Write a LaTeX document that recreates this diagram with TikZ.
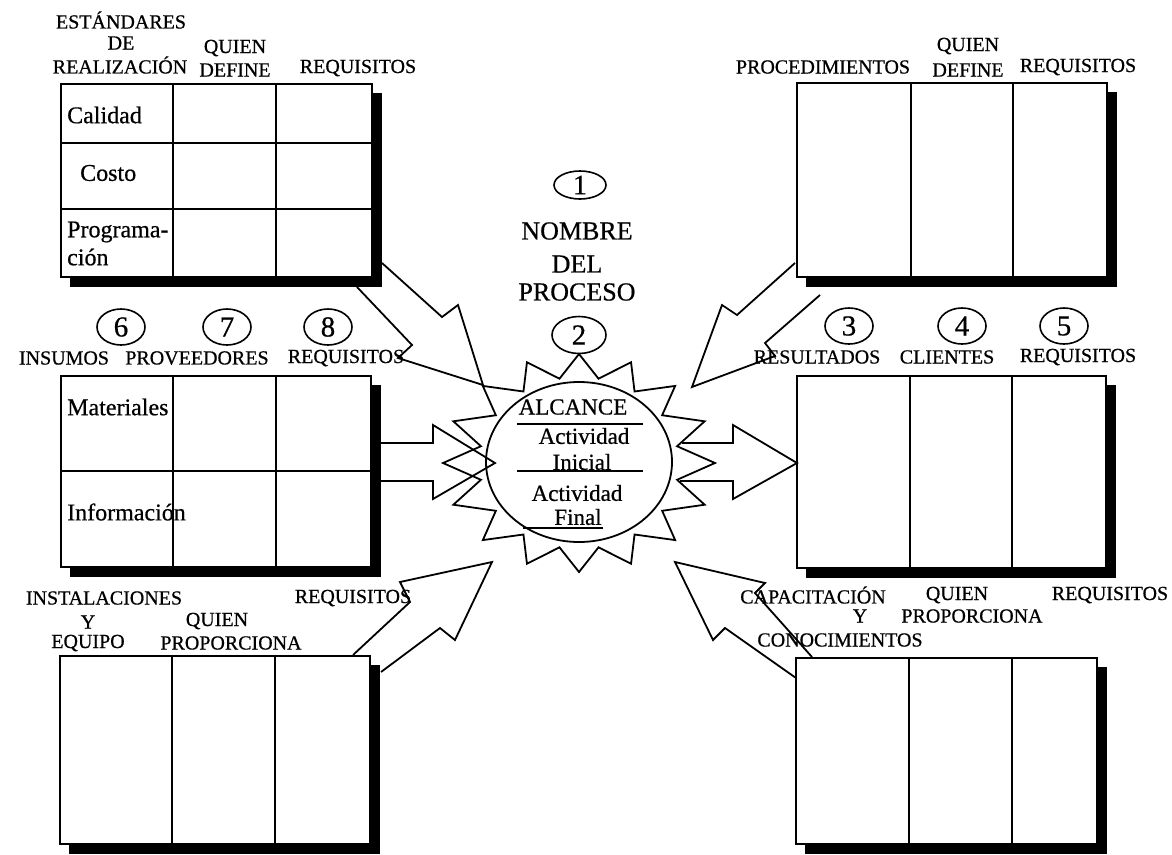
\documentclass[tikz,border=0pt]{standalone}
\usepackage{fontspec}
\setmainfont{Liberation Serif}[FakeBold=0.6]
\usetikzlibrary{shapes.geometric}
\tikzset{
  lbl/.style={inner sep=0pt, font=\fontsize{20}{22}\selectfont},
  cell/.style={inner sep=0pt, anchor=west, font=\fontsize{24}{26}\selectfont},
  suntext/.style={inner sep=0pt, font=\fontsize{23}{25}\selectfont},
  bigtext/.style={inner sep=0pt, font=\fontsize{26}{28}\selectfont},
  numel/.style={draw, ellipse, line width=1.6pt, inner sep=0pt, minimum width=48pt, minimum height=36pt, font=\fontsize{29}{31}\selectfont},
  tbl/.style={draw, line width=1.8pt, inner sep=0pt, outer sep=0pt},
  tline/.style={line width=1.8pt},
  blockarrow/.style={draw, line width=1.8pt, line join=miter},
}
\newcommand\mytable[5]{%
  \fill (#4,#3+9) rectangle (#4+10,#5+10);
  \fill (#2+9,#5) rectangle (#4+10,#5+10);
  \node[tbl, minimum width=#4-#2, minimum height=#5-#3] (#1) at ({(#2+#4)/2},{(#3+#5)/2}) {};
}
\begin{document}
\begin{tikzpicture}[x=1pt, y=-1pt]
\useasboundingbox (0,0) rectangle (1172,854);
\fill[white] (0,0) rectangle (1172,854);

% ---------- tables ----------
\mytable{T1}{61}{84}{372}{277}
\draw[tline] (173,84) -- (173,277) (276,84) -- (276,277)
             (61,143) -- (372,143) (61,209) -- (372,209);
\mytable{T2}{797}{83}{1107}{277}
\draw[tline] (911,83) -- (911,277) (1013,83) -- (1013,277);
\mytable{T3}{61}{376}{371}{567}
\draw[tline] (173,376) -- (173,567) (276,376) -- (276,567) (61,471) -- (371,471);
\mytable{T4}{797}{376}{1106}{568}
\draw[tline] (910,376) -- (910,568) (1012,376) -- (1012,568);
\mytable{T5}{60}{656}{370}{844}
\draw[tline] (172,656) -- (172,844) (275,656) -- (275,844);
\mytable{T6}{796}{658}{1097}{844}
\draw[tline] (909,658) -- (909,844) (1012,658) -- (1012,844);

% ---------- table labels ----------
\node[lbl] (t1a) at (121,20) {ESTÁNDARES};
\node[lbl] (t1b) at (121,43) {DE};
\node[lbl] (t1c) at (120,65) {REALIZACIÓN};
\node[lbl] (t1d) at (235,48) {QUIEN};
\node[lbl] (t1e) at (235,70) {DEFINE};
\node[lbl] (t1f) at (358,68) {REQUISITOS};
\node[cell] (c1) at (67,115) {Calidad};
\node[cell] (c2) at (80,173) {Costo};
\node[cell] (c3) at (67,232) {Programa-};
\node[cell] (c4) at (67,257) {ción};

\node[lbl] (t2a) at (823,67) {PROCEDIMIENTOS};
\node[lbl] (t2b) at (968,46) {QUIEN};
\node[lbl] (t2c) at (968,70) {DEFINE};
\node[lbl] (t2d) at (1078,67) {REQUISITOS};

\node[numel] (n6) at (121,327) {6};
\node[numel] (n7) at (227,327) {7};
\node[numel] (n8) at (328,327) {8};
\node[lbl] (t3a) at (64,358) {INSUMOS};
\node[lbl] (t3b) at (197,358) {PROVEEDORES};
\node[lbl] (t3c) at (346,358) {REQUISITOS};
\node[cell] (c5) at (67,407) {Materiales};
\node[cell] (c6) at (67,512) {Información};

\node[numel] (n3) at (849,326) {3};
\node[numel] (n4) at (962,326) {4};
\node[numel] (n5) at (1064,326) {5};
\node[lbl] (t4a) at (817,357) {RESULTADOS};
\node[lbl] (t4b) at (947,357) {CLIENTES};
\node[lbl] (t4c) at (1078,357) {REQUISITOS};

\node[lbl] (t5a) at (104,598) {INSTALACIONES};
\node[lbl] (t5b) at (88,622) {Y};
\node[lbl] (t5c) at (88,643) {EQUIPO};
\node[lbl] (t5d) at (217,621) {QUIEN};
\node[lbl] (t5e) at (231,643) {PROPORCIONA};
\node[lbl] (t5f) at (353,598) {REQUISITOS};

\node[lbl] (t6a) at (813,595) {CAPACITACIÓN};
\node[lbl] (t6b) at (860,616) {Y};
\node[lbl] (t6c) at (840,640) {CONOCIMIENTOS};
\node[lbl] (t6d) at (957,595) {QUIEN};
\node[lbl] (t6e) at (972,616) {PROPORCIONA};
\node[lbl] (t6f) at (1110,595) {REQUISITOS};

% ---------- centre ----------
\node[numel, minimum width=52pt, minimum height=28pt, font=\fontsize{28}{30}\selectfont] (n1) at (580,185) {1};
\node[bigtext] (nom1) at (577,231) {NOMBRE};
\node[bigtext] (nom2) at (577,264) {DEL};
\node[bigtext] (nom3) at (577,292) {PROCESO};
\node[numel, minimum width=54pt, minimum height=37pt] (n2) at (579,335) {2};

% star
\draw[line width=1.8pt, line join=miter, shift={(579,463)}]
  (90:136 and 109)
  \foreach \a in {90,112.5,...,427.5} { -- ({\a+11.25}:100 and 86) -- ({\a+22.5}:136 and 109) }
  -- cycle;
\draw[line width=1.8pt] (579,462) ellipse [x radius=93, y radius=80];
\coordinate (sun) at (579,462);

\node[suntext] (s1) at (573,407) {ALCANCE};
\draw[tline] (517,424) -- (643,424);
\node[suntext] (s2) at (584,436) {Actividad};
\node[suntext] (s3) at (582,462) {Inicial};
\draw[tline] (517,471) -- (643,471);
\node[suntext] (s4) at (577,493) {Actividad};
\node[suntext] (s5) at (578,517) {Final};
\draw[tline] (523,528) -- (603,528);

% ---------- block arrows ----------
% top-left
\draw[blockarrow] (382,263) -- (442,317) -- (458,305) -- (483,385) -- (398,358) -- (412,345) -- (357,287);
% top-right
\draw[blockarrow] (795,263) -- (737,315) -- (722,305) -- (692,387) -- (775,356) -- (765,343) -- (820,295);
% bottom-left
\draw[blockarrow] (353,655) -- (410,602) -- (400,582) -- (492,562) -- (455,640) -- (440,628) -- (381,672);
% bottom-right
\draw[blockarrow] (812,657) -- (755,593) -- (765,583) -- (675,562) -- (713,640) -- (725,628) -- (796,678);
% left horizontal
\draw[blockarrow] (381,443) -- (433,443) -- (433,425) -- (495,463) -- (433,499) -- (433,481) -- (381,481);
% right horizontal
\draw[blockarrow] (682,443) -- (733,443) -- (733,425) -- (797,463) -- (733,499) -- (733,481) -- (680,481);
\end{tikzpicture}
\end{document}
